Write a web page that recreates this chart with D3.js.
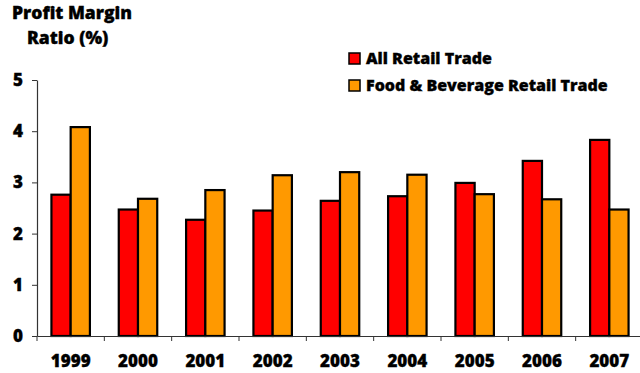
<!DOCTYPE html>
<html><head><meta charset="utf-8">
<script src="https://cdn.jsdelivr.net/npm/d3@7/dist/d3.min.js"></script>
<style>
body{margin:0;background:#fff;}
svg{display:block;}
text{font-family:"Open Sans",sans-serif;font-weight:800;fill:#000;stroke:#000;stroke-width:0.35px;}
</style></head>
<body><svg id="c" width="640" height="373"></svg>
<script>
const years = ["1999","2000","2001","2002","2003","2004","2005","2006","2007"];
const allRetail = [2.76, 2.47, 2.27, 2.45, 2.64, 2.73, 2.99, 3.42, 3.83];
const foodBev = [4.08, 2.68, 2.85, 3.14, 3.20, 3.15, 2.77, 2.67, 2.47];
const seriesNames = ["All Retail Trade", "Food & Beverage Retail Trade"];
const seriesColors = ["#ff0000", "#ff9900"];
const yTicks = [0,1,2,3,4,5];

(function(){
const svg = d3.select("#c");
const mL = 37, mR = 643, mT = 80, mB = 336;
const FF = '"Open Sans",sans-serif';
const x = d3.scaleBand().domain(years).range([mL, mR]).paddingInner(0).paddingOuter(0);
const inner = d3.scaleBand().domain([0,1]).range([0, x.bandwidth()]).paddingInner(0).paddingOuter(0.75);
const y = d3.scaleLinear().domain([0,5]).range([mB, mT]);

const data = [allRetail, foodBev];
data.forEach((vals, si) => {
  svg.append("g").selectAll("rect").data(vals).join("rect")
    .attr("x", (d,i) => x(years[i]) + inner(si))
    .attr("y", d => y(d))
    .attr("width", inner.bandwidth())
    .attr("height", d => y(0) - y(d))
    .attr("fill", seriesColors[si])
    .attr("stroke", "#000")
    .attr("stroke-width", 2.2);
});

const ya = svg.append("g").attr("transform", `translate(${mL},0)`)
  .call(d3.axisLeft(y).tickValues(yTicks).tickSize(5).tickSizeOuter(0).tickFormat(d3.format("d")));
ya.select(".domain").attr("stroke", "#333").attr("stroke-width", 1.2);
ya.selectAll(".tick line").attr("stroke", "#333");
ya.selectAll("text").attr("font-size", 17).attr("x", -14).attr("font-family", FF).attr("font-weight", 800).attr("fill","#000");

const xa = svg.append("g").attr("transform", `translate(0,${mB})`)
  .call(d3.axisBottom(x).tickSize(0).tickSizeOuter(0));
xa.select(".domain").attr("stroke", "#333").attr("stroke-width", 1.2);
xa.selectAll("text").attr("font-size", 17).attr("y", 19).attr("dy", "0.71em").attr("font-family", FF).attr("font-weight", 800).attr("fill","#000");
xa.selectAll(".bound").data(years).join("line").attr("class","bound")
  .attr("x1", d => x(d)).attr("x2", d => x(d)).attr("y1", 0).attr("y2", 5)
  .attr("stroke", "#333");

svg.append("text").attr("x", 12).attr("y", 19).attr("font-size", 17.5).text("Profit Margin");
svg.append("text").attr("x", 27).attr("y", 44).attr("font-size", 17.5).text("Ratio (%)");

const lg = svg.append("g");
seriesNames.forEach((n, i) => {
  const yy = 53 + i * 27;
  lg.append("rect").attr("x", 349).attr("y", yy).attr("width", 11).attr("height", 11)
    .attr("fill", seriesColors[i]).attr("stroke", "#000").attr("stroke-width", 1.5);
  lg.append("text").attr("x", 366).attr("y", yy + 11).attr("font-size", 16).text(n);
});
})();
</script></body></html>
